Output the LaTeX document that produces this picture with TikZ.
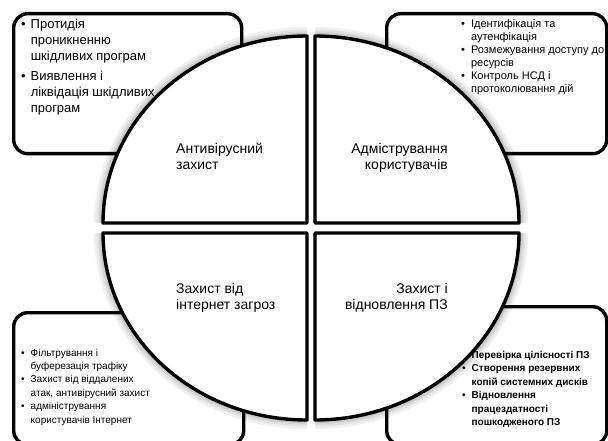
\documentclass[tikz,border=0pt]{standalone}
\usepackage{fontspec}
\setmainfont{Liberation Sans}
\usetikzlibrary{positioning}

\begin{document}
\begin{tikzpicture}[x=1pt,y=1pt,
    infobox/.style={draw=black,line width=3.4pt,rounded corners=14pt,fill=white,
      anchor=north west,inner sep=0pt},
    sector/.style={draw=black,line width=3.4pt,fill=white,line join=round},
    glow/.style={draw=black,line width=#1,opacity=0.06},
    title/.style={font=\fontsize{14}{16}\selectfont,inner sep=0pt},
    listtext/.style={anchor=north west,inner sep=0pt}
  ]
    \useasboundingbox (0,0) rectangle (608,440);

    % Рамки з переліками заходів
    \node[infobox,minimum width=228,minimum height=140] (boxAV) at (12,428) {};
    \node[infobox,minimum width=220,minimum height=140] (boxAdm) at (385,428) {};
    \node[infobox,minimum width=230,minimum height=132] (boxNet) at (12,129) {};
    \node[infobox,minimum width=220,minimum height=138] (boxRec) at (385,135) {};

    \node[listtext,font=\fontsize{13}{16}\selectfont] (txtAV) at (21,423)
      {\begin{tabular}{@{}l@{\hspace{5pt}}l@{}}
        \textbullet & Протидія\\
                    & проникненню\\
                    & шкідливих програм\\[4pt]
        \textbullet & Виявлення і\\
                    & ліквідація шкідливих\\
                    & програм
      \end{tabular}};
    \node[listtext,font=\fontsize{11}{13}\selectfont] (txtAdm) at (461,422)
      {\begin{tabular}{@{}l@{\hspace{6pt}}l@{}}
        \textbullet & Ідентифікація та\\
                    & аутенфікація\\
        \textbullet & Розмежування доступу до\\
                    & ресурсів\\
        \textbullet & Контроль НСД і\\
                    & протоколювання дій
      \end{tabular}};
    \node[listtext,font=\fontsize{10}{13.4}\selectfont] (txtNet) at (21,93.5)
      {\begin{tabular}{@{}l@{\hspace{6pt}}l@{}}
        \textbullet & Фільтрування і\\
                    & буферезація трафіку\\
        \textbullet & Захист від віддалених\\
                    & атак, антивірусний захист\\
        \textbullet & адміністрування\\
                    & користувачів Інтернет
      \end{tabular}};
    \node[listtext,font=\bfseries\fontsize{10}{13.5}\selectfont] (txtRec) at (462,91.5)
      {\begin{tabular}{@{}l@{\hspace{6pt}}l@{}}
        \textbullet & Перевірка цілісності ПЗ\\
        \textbullet & Створення резервних\\
                    & копій системних дисків\\
        \textbullet & Відновлення\\
                    & працездатності\\
                    & пошкодженого ПЗ
      \end{tabular}};

    % Чотири сектори кола з м'якою тінню
    \foreach \cx/\cy/\sa/\ea in {307/217/180/90,315/217/90/0,307/207/180/270,315/207/0/-90}{
      \foreach \w in {18,13,9,6}
        \draw[glow=\w pt] (\cx,\cy) ++(\sa:204 and 187)
          arc[start angle=\sa,end angle=\ea,x radius=204,y radius=187];
      \draw[sector] (\cx,\cy) ++(\sa:204 and 187)
        arc[start angle=\sa,end angle=\ea,x radius=204,y radius=187] -- (\cx,\cy) -- cycle;
    }

    \node[title,anchor=north west,align=left] (lblAV) at (176,297) {Антивірусний\\захист};
    \node[title,anchor=north east,align=right] (lblAdm) at (448,297) {Адмістрування\\користувачів};
    \node[title,anchor=north west,align=left] (lblNet) at (176,157) {Захист від\\інтернет загроз};
    \node[title,anchor=north east,align=right] (lblRec) at (448,157) {Захист і\\відновлення ПЗ};
\end{tikzpicture}
\end{document}
